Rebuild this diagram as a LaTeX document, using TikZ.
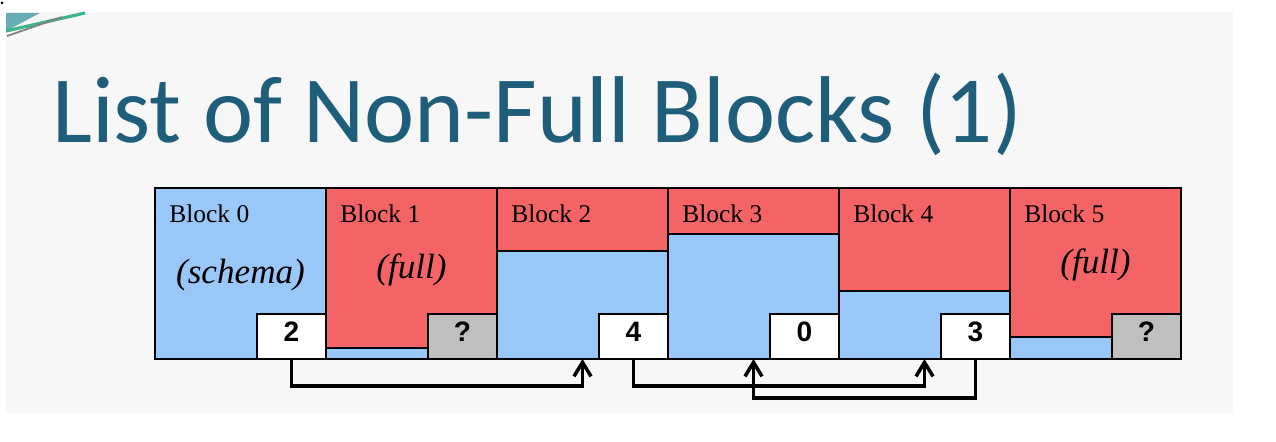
\documentclass[tikz,border=0pt]{standalone}
\usepackage{fontspec}
\setmainfont{Liberation Serif}
\newfontfamily\titlefont{Carlito}
\newfontfamily\numfont{Liberation Sans}
\usetikzlibrary{arrows.meta}
\definecolor{titleblue}{RGB}{31,94,122}
\definecolor{freeblue}{RGB}{153,199,247}
\definecolor{usedred}{RGB}{244,100,102}
\definecolor{ptrgray}{RGB}{191,191,191}
\definecolor{slidebg}{RGB}{247,247,247}
\definecolor{decoteal}{RGB}{104,172,182}
\definecolor{decogreen}{RGB}{60,180,140}
\tikzset{
  blk/.style={draw, fill=freeblue, line width=.9pt, minimum width=3.42cm,
    minimum height=3.42cm, inner sep=0pt, outer sep=0pt},
  used/.style={draw, fill=usedred, line width=.9pt},
  ptr/.style={draw, line width=.9pt, minimum width=1.38cm, minimum height=.9cm,
    inner sep=0pt, outer sep=0pt, text depth=5pt,
    font=\numfont\bfseries\fontsize{16}{18}\selectfont},
  note/.style={font=\itshape\fontsize{20}{24}\selectfont, inner sep=0pt},
  link/.style={line width=2pt, -{Straight Barb[length=.28cm,width=.34cm]}},
}

\begin{document}
\begin{tikzpicture}[x=.02cm, y=-.02cm]
\useasboundingbox (0,0) rectangle (1276,442);
\fill[slidebg] (6,12) rectangle (1233,413);
% corner decoration
\fill[decoteal] (6,13)--(40,13)--(6,31)--cycle;
\draw[decogreen, line width=1.8pt] (6,31)--(85,13);
\draw[gray, line width=1pt] (7,36)--(62,17);
\fill (2,3) circle (1.5);
\node[anchor=base west, inner sep=0pt, text=titleblue,
  font=\titlefont\fontsize{54}{60}\selectfont] (title) at (52,143) {List of Non-Full Blocks (1)};
% blocks
\foreach \i in {0,...,5}
  \node[blk] (blk\i) at ({240.5+171*\i},273.5) {};
\foreach \i/\h in {1/160,2/63,3/46,4/103,5/149}
  \draw[used] (blk\i.north west) rectangle ++(171,\h);
\foreach \i in {0,...,5}
  \node[anchor=base west, inner sep=0pt, font=\fontsize{14.5}{17}\selectfont]
    (name\i) at ([shift={(14,34)}]blk\i.north west) {Block \i};
\node[note] (note0) at (240.5,275) {(schema)};
\node[note] (note1) at (411.5,270) {(full)};
\node[note] (note5) at (1095.5,265) {(full)};
% pointers
\foreach \i/\t/\c in {0/2/white,1/?/ptrgray,2/4/white,3/0/white,4/3/white,5/?/ptrgray}
  \node[ptr, fill=\c, anchor=south east] (ptr\i) at (blk\i.south east) {\t};
\draw[link] (ptr0.south) -- ++(0,27) -| (blk2.south);
\draw[link] (ptr2.south) -- ++(0,27) -| (blk4.south);
\draw[link] (ptr4.south) -- ++(0,39) -| (blk3.south);
\end{tikzpicture}
\end{document}
